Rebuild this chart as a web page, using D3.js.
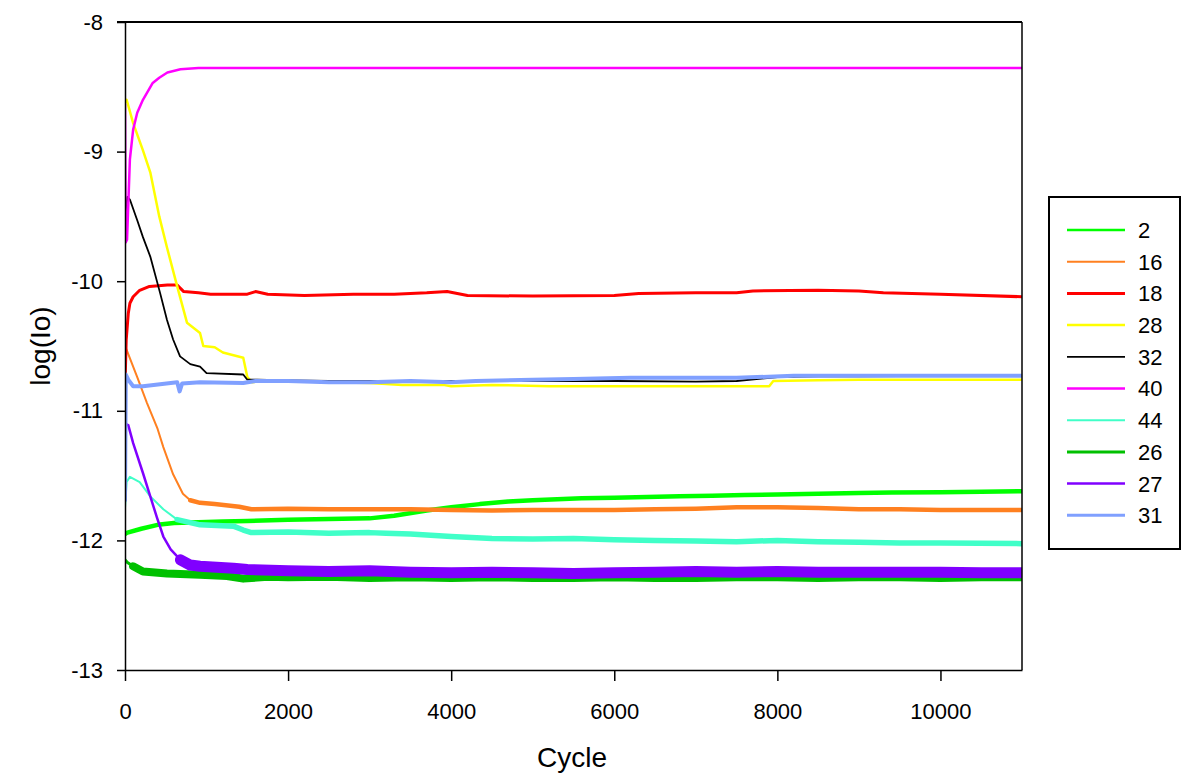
<!DOCTYPE html>
<html>
<head>
<meta charset="utf-8">
<script src="https://cdn.jsdelivr.net/npm/d3@7"></script>
<style>
  body { margin: 0; background: #fff; }
  svg { font-family: Arial, "Liberation Sans", sans-serif; }
  .axis text { font-size: 22px; fill: #000; }
  .axis path, .axis line { stroke: #000; stroke-width: 1.5; }
</style>
</head>
<body>
<div id="chart-container"></div>
<script>
// [cycle, log(Io)]
const s2 = [[0,-11.95],[30,-11.94],[200,-11.91],[400,-11.88],[600,-11.865],[900,-11.86],[1200,-11.855],[1500,-11.85],[2000,-11.84],[2500,-11.835],[3000,-11.83],[3300,-11.81],[3700,-11.77],[4000,-11.745],[4350,-11.72],[4700,-11.70],[5000,-11.69],[5600,-11.675],[6000,-11.67],[6400,-11.665],[6800,-11.66],[7200,-11.655],[7600,-11.65],[8000,-11.645],[8500,-11.64],[9000,-11.635],[9400,-11.63],[10000,-11.628],[10500,-11.625],[11000,-11.62]];
const s16 = [[0,-10.5],[20,-10.53],[150,-10.74],[270,-10.94],[400,-11.14],[470,-11.28],[590,-11.49],[710,-11.64],[800,-11.69],[920,-11.71],[1100,-11.72],[1400,-11.74],[1550,-11.76],[2000,-11.755],[2500,-11.76],[3000,-11.76],[3500,-11.76],[4000,-11.765],[4500,-11.77],[5000,-11.765],[5500,-11.765],[6000,-11.765],[6500,-11.76],[7000,-11.755],[7500,-11.745],[8000,-11.745],[8500,-11.75],[9000,-11.76],[9500,-11.76],[10000,-11.765],[11000,-11.765]];
const s18 = [[0,-10.8],[15,-10.45],[40,-10.25],[60,-10.17],[100,-10.12],[180,-10.07],[300,-10.04],[520,-10.03],[640,-10.03],[720,-10.08],[900,-10.09],[1050,-10.1],[1500,-10.1],[1600,-10.08],[1750,-10.1],[2200,-10.11],[2800,-10.1],[3300,-10.1],[3700,-10.09],[3950,-10.08],[4200,-10.11],[5000,-10.115],[6000,-10.11],[6300,-10.095],[7000,-10.09],[7500,-10.09],[7700,-10.075],[8500,-10.07],[9000,-10.075],[9300,-10.09],[10000,-10.1],[11000,-10.12]];
const s28 = [[0,-8.62],[20,-8.6],[100,-8.78],[220,-8.99],[310,-9.16],[420,-9.5],[515,-9.74],[640,-10.04],[760,-10.32],[920,-10.4],[960,-10.5],[1100,-10.51],[1200,-10.55],[1450,-10.59],[1500,-10.74],[1560,-10.78],[1700,-10.765],[2000,-10.77],[2500,-10.78],[3000,-10.785],[3400,-10.8],[3900,-10.8],[4000,-10.81],[4500,-10.8],[5200,-10.81],[6000,-10.81],[7000,-10.81],[7900,-10.81],[7950,-10.77],[8500,-10.765],[9000,-10.76],[10000,-10.76],[11000,-10.76]];
const s32 = [[0,-9.5],[30,-9.35],[60,-9.37],[150,-9.53],[220,-9.66],[310,-9.81],[430,-10.09],[515,-10.3],[590,-10.45],[675,-10.58],[800,-10.64],[920,-10.66],[1000,-10.71],[1450,-10.72],[1500,-10.76],[1620,-10.76],[2000,-10.765],[2500,-10.77],[3000,-10.77],[3500,-10.775],[4000,-10.77],[5000,-10.77],[6000,-10.77],[7000,-10.775],[7500,-10.77],[8000,-10.74],[8500,-10.735],[9000,-10.735],[10000,-10.73],[11000,-10.73]];
const s40 = [[0,-8.63],[8,-9.7],[25,-9.68],[60,-9.06],[100,-8.83],[150,-8.7],[220,-8.6],[340,-8.47],[420,-8.43],[520,-8.39],[680,-8.365],[900,-8.355],[2000,-8.355],[4000,-8.355],[6000,-8.355],[8000,-8.355],[11000,-8.355]];
const s44 = [[0,-11.75],[20,-11.55],[60,-11.51],[180,-11.55],[310,-11.66],[470,-11.76],[640,-11.84],[920,-11.88],[1330,-11.89],[1450,-11.92],[1550,-11.94],[2000,-11.935],[2500,-11.945],[3000,-11.94],[3200,-11.945],[3500,-11.95],[4000,-11.97],[4500,-11.985],[5000,-11.99],[5500,-11.985],[6000,-11.995],[6500,-12.0],[7000,-12.005],[7500,-12.01],[8000,-12.0],[8500,-12.01],[9000,-12.015],[9500,-12.02],[10000,-12.02],[11000,-12.025]];
const s26 = [[0,-12.15],[30,-12.17],[100,-12.2],[220,-12.24],[515,-12.255],[920,-12.265],[1250,-12.275],[1450,-12.295],[1750,-12.28],[2000,-12.285],[2500,-12.28],[3000,-12.29],[3500,-12.285],[4000,-12.29],[4500,-12.285],[5000,-12.29],[5500,-12.29],[6000,-12.285],[6500,-12.29],[7000,-12.29],[7500,-12.285],[8000,-12.285],[8500,-12.29],[9000,-12.285],[9500,-12.285],[10000,-12.29],[10500,-12.285],[11000,-12.285]];
const s27 = [[0,-11.1],[40,-11.11],[100,-11.25],[220,-11.48],[310,-11.66],[390,-11.82],[470,-11.97],[560,-12.07],[680,-12.15],[800,-12.19],[920,-12.2],[1330,-12.215],[1500,-12.225],[2000,-12.235],[2500,-12.24],[3000,-12.235],[3500,-12.245],[4000,-12.25],[4500,-12.245],[5000,-12.25],[5500,-12.255],[6000,-12.25],[6500,-12.245],[7000,-12.24],[7500,-12.245],[8000,-12.24],[8500,-12.245],[9000,-12.245],[9500,-12.245],[10000,-12.245],[10500,-12.25],[11000,-12.25]];
const s31 = [[0,-11.7],[10,-10.72],[40,-10.76],[100,-10.81],[220,-10.81],[640,-10.78],[670,-10.85],[700,-10.79],[920,-10.78],[1450,-10.785],[1600,-10.77],[2000,-10.77],[2500,-10.78],[3000,-10.78],[3500,-10.77],[4000,-10.78],[4300,-10.77],[5000,-10.76],[5500,-10.755],[6200,-10.745],[7000,-10.745],[7500,-10.745],[8200,-10.73],[9000,-10.73],[10000,-10.73],[11000,-10.73]];

const seriesNames = ["2", "16", "18", "28", "32", "40", "44", "26", "27", "31"];
const seriesData = [s2, s16, s18, s28, s32, s40, s44, s26, s27, s31];
const colors = ["#00ff00", "#ff8020", "#ff0000", "#ffff00", "#000000", "#ff00ff", "#40ffc8", "#00c000", "#8000ff", "#80a0ff"];
const widths = [2.5, 2, 3, 2.5, 1.8, 2.5, 2, 3, 2.5, 4];
// noisy plateaus read as a wider band: start cycle and band width
const bandFrom = [0, 800, null, null, null, null, 640, 100, 680, null];
const bandWidth = [4.5, 4.5, 0, 0, 0, 0, 5.5, 8, 11, 0];
const xTicks = [0, 2000, 4000, 6000, 8000, 10000];
const yTicks = [-13, -12, -11, -10, -9, -8];

const width = 1181, height = 774;
const margin = ({ top: 22, right: 159, bottom: 104, left: 125 });

const svg = d3.select("#chart-container")
    .append("svg")
    .attr("width", width)
    .attr("height", height);

const x = d3.scaleLinear()
    .domain([0, 11000])
    .range([margin.left, width - margin.right]);

const y = d3.scaleLinear()
    .domain([-13, -8])
    .range([height - margin.bottom, margin.top]);

const line = d3.line()
    .x(d => x(d[0]))
    .y(d => y(d[1]));

// clip the traces to the plot frame
svg.append("clipPath").attr("id", "plot")
    .append("rect")
    .attr("x", x(0)).attr("y", y(-8))
    .attr("width", x(11000) - x(0)).attr("height", y(-13) - y(-8));

const traces = svg.append("g")
    .attr("clip-path", "url(#plot)")
    .selectAll("g")
    .data(seriesData)
    .join("g");

traces.append("path")
    .attr("fill", "none")
    .attr("stroke", (d, i) => colors[i])
    .attr("stroke-width", (d, i) => widths[i])
    .attr("stroke-linejoin", "round")
    .attr("d", line);

traces.filter((d, i) => bandFrom[i] !== null)
    .append("path")
    .attr("fill", "none")
    .attr("stroke", d => colors[seriesData.indexOf(d)])
    .attr("stroke-width", d => bandWidth[seriesData.indexOf(d)])
    .attr("stroke-linejoin", "round")
    .attr("stroke-linecap", "round")
    .attr("d", d => line(d.filter(p => p[0] >= bandFrom[seriesData.indexOf(d)])));

// frame: top and right borders
svg.append("line")
    .attr("x1", x(0) - 8).attr("x2", x(11000))
    .attr("y1", y(-8)).attr("y2", y(-8))
    .attr("stroke", "#000").attr("stroke-width", 2);
svg.append("line")
    .attr("x1", x(11000)).attr("x2", x(11000))
    .attr("y1", y(-8)).attr("y2", y(-13))
    .attr("stroke", "#000").attr("stroke-width", 1.5);

svg.append("g")
    .attr("class", "axis x")
    .attr("transform", `translate(0,${y(-13)})`)
    .call(d3.axisBottom(x).tickValues(xTicks).tickFormat(d3.format("d")).tickSize(11).tickSizeOuter(0).tickPadding(22));

svg.append("g")
    .attr("class", "axis y")
    .attr("transform", `translate(${x(0)},0)`)
    .call(d3.axisLeft(y).tickValues(yTicks).tickFormat(d3.format("d")).tickSize(8).tickSizeOuter(0).tickPadding(14))
    .call(g => g.selectAll("text").text(d => d < 0 ? "-" + Math.abs(d) : d));

svg.append("text")
    .attr("x", 572)
    .attr("y", 767)
    .attr("text-anchor", "middle")
    .attr("font-size", 28)
    .text("Cycle");

svg.append("text")
    .attr("transform", `translate(50,${(y(-8) + y(-13)) / 2}) rotate(-90)`)
    .attr("text-anchor", "middle")
    .attr("font-size", 28)
    .text("log(Io)");

// legend
const legend = svg.append("g");
legend.append("rect")
    .attr("x", 1049).attr("y", 197)
    .attr("width", 131).attr("height", 352)
    .attr("fill", "none").attr("stroke", "#000").attr("stroke-width", 2);

const rows = legend.selectAll("g.row")
    .data(seriesNames)
    .join("g")
    .attr("class", "row")
    .attr("transform", (d, i) => `translate(0,${230 + i * 31.7})`);

rows.append("line")
    .attr("x1", 1067).attr("x2", 1125)
    .attr("stroke", (d, i) => colors[i])
    .attr("stroke-width", (d, i) => Math.min(widths[i], 3));

rows.append("text")
    .attr("x", 1138)
    .attr("dy", "0.36em")
    .attr("font-size", 22)
    .text(d => d);
</script>
</body>
</html>
